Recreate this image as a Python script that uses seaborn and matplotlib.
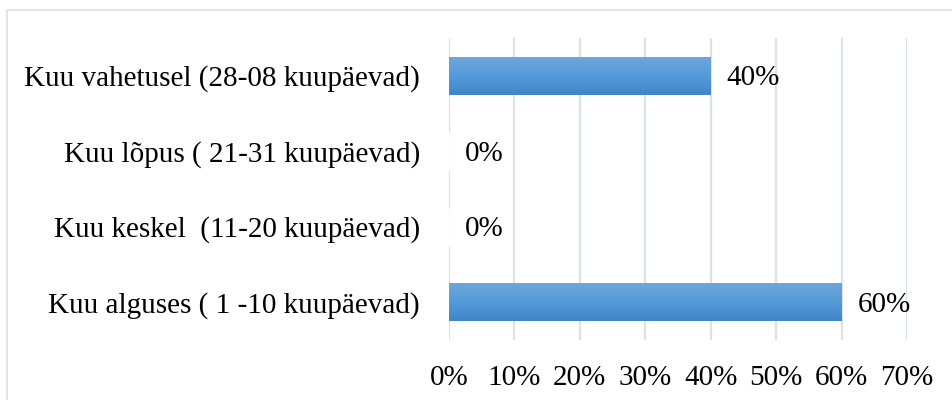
import numpy as np
import pandas as pd
import matplotlib.pyplot as plt
import seaborn as sns
from matplotlib.patches import Rectangle
from matplotlib.colors import LinearSegmentedColormap

# Data
categories = [
    "Kuu vahetusel (28-08 kuupäevad)",
    "Kuu lõpus ( 21-31 kuupäevad)",
    "Kuu keskel  (11-20 kuupäevad)",
    "Kuu alguses ( 1 -10 kuupäevad)",
]
shares = [40, 0, 0, 60]
x_ticks = [0, 10, 20, 30, 40, 50, 60, 70]
x_tick_labels = [f"{t}%" for t in x_ticks]

sns.set_style("white")
plt.rcParams['font.family'] = ['Liberation Serif', 'DejaVu Serif']

FS = 21

df = pd.DataFrame({"category": categories, "share": shares})

fig = plt.figure(figsize=(9.52, 4.0), dpi=100)
ax = fig.add_axes([449 / 952, 1 - 340 / 400, (907 - 449) / 952, (340 - 38) / 400])

sns.barplot(data=df, y="category", x="share", order=categories,
            color="#5b9bd5", width=0.5, ax=ax, zorder=3)

# vertical gradient fill on each bar, like the Office style
cmap = LinearSegmentedColormap.from_list("bar_grad", ["#6fa6dd", "#549ad8", "#4185ca"])
grad = np.linspace(0, 1, 256).reshape(-1, 1)
for patch in ax.patches:
    w = patch.get_width()
    if w <= 0:
        continue
    x0, y0 = patch.get_x(), patch.get_y()
    h = patch.get_height()
    patch.set_facecolor("none")
    patch.set_edgecolor("none")
    im = ax.imshow(grad, cmap=cmap, aspect="auto",
                   extent=(x0, x0 + w, y0 + h, y0), zorder=3)
    im.set_clip_path(patch)

ax.set_xlim(0, 70)
ax.set_ylim(3.5, -0.5)
ax.set_xticks(x_ticks)
ax.set_xticklabels(x_tick_labels)
ax.tick_params(axis="both", length=0, labelsize=FS, colors="black")
ax.tick_params(axis="x", pad=18)
ax.tick_params(axis="y", pad=21)
ax.set_xlabel("")
ax.set_ylabel("")
ax.grid(axis="x", color="#dde1e8", linewidth=1.6, zorder=0)
for side in ["top", "right", "bottom", "left"]:
    ax.spines[side].set_visible(False)

# value labels
for i, v in enumerate(shares):
    ax.text(v + 2.4, i + 0.03, f"{v}%", va="center", ha="left",
            fontsize=FS, color="black", zorder=4)

# light chart frame
fig.patches.append(Rectangle((7 / 952, -0.05), 1.0, 1 - 10 / 400 + 0.05,
                             transform=fig.transFigure, fill=False,
                             edgecolor="#dde1e8", linewidth=1.2))

fig.savefig("out.png", dpi=100)
